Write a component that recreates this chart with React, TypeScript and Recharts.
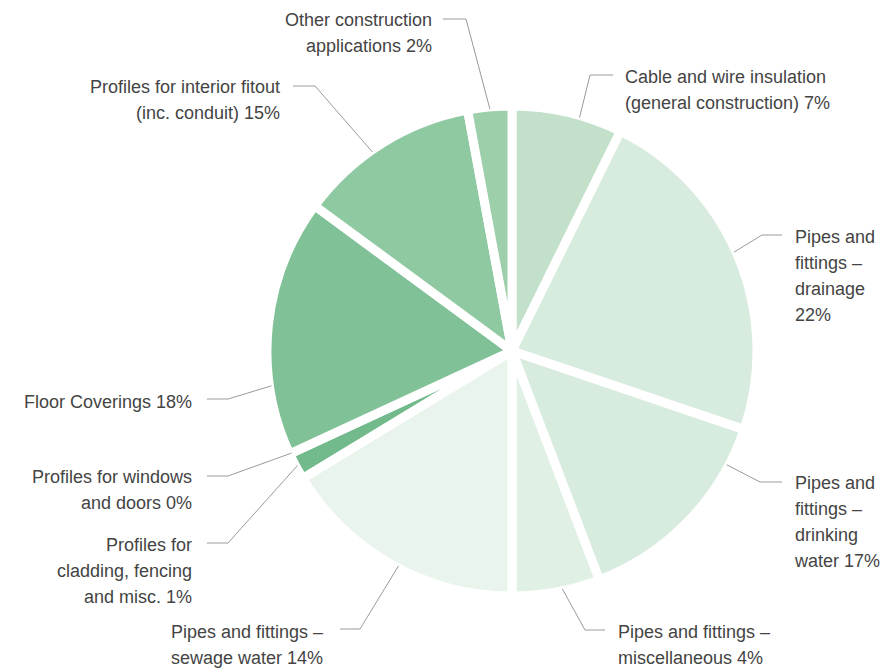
import { PieChart, Pie, Cell } from "recharts";

// shares as drawn (clockwise from 12 o'clock)
const categories = [
  "Cable and wire insulation (general construction)",
  "Pipes and fittings – drainage",
  "Pipes and fittings – drinking water",
  "Pipes and fittings – miscellaneous",
  "Pipes and fittings – sewage water",
  "Profiles for cladding, fencing and misc.",
  "Profiles for windows and doors",
  "Floor Coverings",
  "Profiles for interior fitout (inc. conduit)",
  "Other construction applications",
];
const shares = [7.3, 22.9, 14.0, 5.8, 16.3, 1.8, 0, 17.0, 12.0, 2.9];

const labelLines = [
  ["Cable and wire insulation", "(general construction) 7%"],
  ["Pipes and", "fittings –", "drainage", "22%"],
  ["Pipes and", "fittings –", "drinking", "water 17%"],
  ["Pipes and fittings –", "miscellaneous 4%"],
  ["Pipes and fittings –", "sewage water 14%"],
  ["Profiles for", "cladding, fencing", "and misc. 1%"],
  ["Profiles for windows", "and doors 0%"],
  ["Floor Coverings 18%"],
  ["Profiles for interior fitout", "(inc. conduit) 15%"],
  ["Other construction", "applications 2%"],
];

const colors = [
  "#c3e1ca",
  "#d8ebdf",
  "#d8ebdf",
  "#e0f0e5",
  "#e8f4ec",
  "#72b98b",
  "#72b98b",
  "#80c197",
  "#8fc9a1",
  "#9dcfab",
];

// label placement: text x, first line centre y, anchor, leader start/knee x, leader y, tip shift (deg, clockwise)
const layout = [
  { x: 625, y: 77, anchor: "start", sx: 613, kx: 590, ly: 75, shift: 3 },
  { x: 795, y: 237, anchor: "start", sx: 782, kx: 762, ly: 235, shift: -1.5 },
  { x: 795, y: 483, anchor: "start", sx: 782, kx: 760, ly: 482, shift: -16 },
  { x: 618, y: 632, anchor: "start", sx: 605, kx: 585, ly: 630, shift: -1.5 },
  { x: 323, y: 632, anchor: "end", sx: 340, kx: 360, ly: 629, shift: -1.5 },
  { x: 192, y: 545, anchor: "end", sx: 207, kx: 228, ly: 543, shift: 0 },
  { x: 192, y: 477, anchor: "end", sx: 207, kx: 228, ly: 476, shift: 0 },
  { x: 192, y: 402, anchor: "end", sx: 207, kx: 228, ly: 399, shift: -14 },
  { x: 280, y: 87, anchor: "end", sx: 293, kx: 315, ly: 86, shift: -3 },
  { x: 432, y: 20, anchor: "end", sx: 443, kx: 466, ly: 19, shift: 0 },
];

const data = categories.map((name, i) => ({ name, value: shares[i] }));

const RAD = Math.PI / 180;

const renderLabel = (props: any) => {
  const { cx, cy, midAngle, outerRadius, index } = props;
  const l = layout[index];
  const a = (midAngle - l.shift) * RAD;
  const r = outerRadius - 2;
  const tx = cx + r * Math.cos(-a);
  const ty = cy + r * Math.sin(-a);
  return (
    <g key={"lbl" + index}>
      <polyline
        points={`${l.sx},${l.ly} ${l.kx},${l.ly} ${tx},${ty}`}
        fill="none"
        stroke="#9a9a9a"
        strokeWidth={1}
      />
      {labelLines[index].map((t, j) => (
        <text
          key={j}
          x={l.x}
          y={l.y + j * 26}
          textAnchor={l.anchor}
          dominantBaseline="central"
          fontSize={18}
          fontFamily="'Liberation Sans', Arial, sans-serif"
          fill="#444"
        >
          {t}
        </text>
      ))}
    </g>
  );
};

export default function App() {
  return (
    <div style={{ position: "absolute", left: 0, top: 0, background: "#fff" }}>
      <PieChart width={892} height={669} margin={{ top: 0, right: 0, bottom: 0, left: 0 }}>
        <Pie
          data={data}
          dataKey="value"
          nameKey="name"
          cx={512}
          cy={351}
          outerRadius={245}
          startAngle={90}
          endAngle={-270}
          stroke="#fff"
          strokeWidth={9}
          label={renderLabel}
          labelLine={false}
          isAnimationActive={false}
        >
          {data.map((d, i) => (
            <Cell key={d.name} fill={colors[i]} />
          ))}
        </Pie>
      </PieChart>
    </div>
  );
}
